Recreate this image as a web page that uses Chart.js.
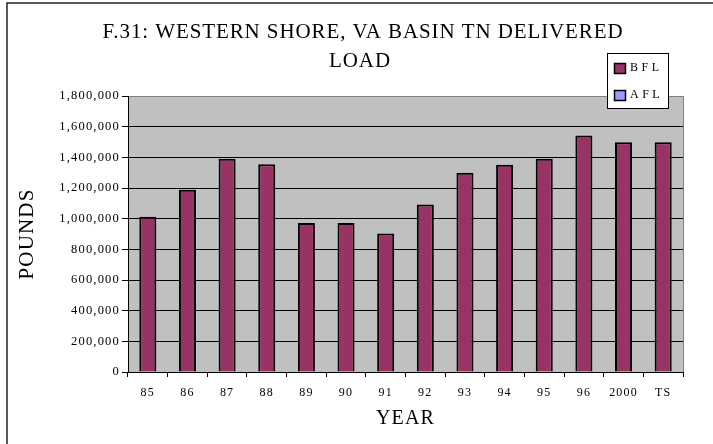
<!DOCTYPE html>
<html>
<head>
<meta charset="utf-8">
<script src="https://cdn.jsdelivr.net/npm/chart.js@4.4.1/dist/chart.umd.min.js"></script>
<style>
  body { margin: 0; background: #fff; }
  canvas { display: block; }
</style>
</head>
<body>
<canvas id="chart" width="713" height="444"></canvas>
<script>
// values
const years = ['85', '86', '87', '88', '89', '90', '91', '92', '93', '94', '95', '96', '2000', 'TS'];
const bflLoad = [1012000, 1189000, 1390000, 1355000, 971000, 971000, 904000, 1093000, 1300000, 1352000, 1390000, 1542000, 1499000, 1499000];
const aflLoad = [null, null, null, null, null, null, null, null, null, null, null, null, null, null];
const titleLines = ['F.31: WESTERN SHORE, VA BASIN TN DELIVERED', 'LOAD'];

const serif = '"Liberation Serif", "Times New Roman", serif';
Chart.defaults.font.family = serif;
Chart.defaults.color = '#000';

// grey plot, outer frame, title and the little legend box
const frame = {
  id: 'frame',
  beforeDraw(chart) {
    const { ctx, chartArea: a } = chart;
    ctx.save();
    ctx.fillStyle = '#c0c0c0';
    ctx.fillRect(a.left, a.top, a.right - a.left, a.bottom - a.top);
    ctx.strokeStyle = '#808080';
    ctx.lineWidth = 1;
    ctx.beginPath();
    ctx.moveTo(a.right + 0.5, a.top);
    ctx.lineTo(a.right + 0.5, a.bottom);
    ctx.stroke();
    ctx.strokeStyle = '#222';
    ctx.lineWidth = 1.5;
    ctx.strokeRect(7, 3, 760, 500);

    ctx.fillStyle = '#000';
    ctx.font = '21px ' + serif;
    ctx.letterSpacing = '0.9px';
    ctx.textAlign = 'center';
    ctx.textBaseline = 'alphabetic';
    ctx.fillText(titleLines[0], 363, 38);
    ctx.fillText(titleLines[1], 360, 67);
    ctx.restore();
    // axis text in the picture is spaced out a bit
    ctx.letterSpacing = '1.2px';
  },
  afterDraw(chart) {
    const { ctx } = chart;
    ctx.save();
    ctx.letterSpacing = '0px';
    ctx.fillStyle = '#fff';
    ctx.fillRect(607, 53, 62, 56);
    ctx.strokeStyle = '#000';
    ctx.lineWidth = 1;
    ctx.strokeRect(607.5, 53.5, 61, 55);
    ctx.font = '12px ' + serif;
    ctx.letterSpacing = '3.5px';
    ctx.textBaseline = 'alphabetic';
    chart.data.datasets.forEach((ds, i) => {
      const y = 63 + i * 27;
      ctx.fillStyle = ds.backgroundColor;
      ctx.fillRect(614, y, 12, 11);
      ctx.lineWidth = 1.5;
      ctx.strokeStyle = '#000';
      ctx.strokeRect(614.5, y + 0.5, 11, 10);
      ctx.fillStyle = '#000';
      ctx.fillText(ds.label, 630, y + 7.5);
    });
    ctx.restore();
    ctx.letterSpacing = '0px';
  }
};

new Chart(document.getElementById('chart'), {
  type: 'bar',
  data: {
    labels: years,
    datasets: [
      { label: 'BFL', data: bflLoad, backgroundColor: '#993366', borderColor: '#000', borderWidth: 2 },
      { label: 'AFL', data: aflLoad, backgroundColor: '#9999ff', borderColor: '#000', borderWidth: 2 }
    ]
  },
  options: {
    responsive: false,
    animation: false,
    devicePixelRatio: 1,
    skipNull: true,
    categoryPercentage: 0.86,
    barPercentage: 0.5,
    layout: { padding: { left: 0, top: 96, right: 30, bottom: 0 } },
    plugins: {
      legend: { display: false },
      title: { display: false },
      tooltip: { enabled: false }
    },
    scales: {
      x: {
        afterFit: (s) => { s.height = 72; },
        grid: { drawOnChartArea: false, drawTicks: true, tickLength: 5, tickColor: '#000', offset: true },
        border: { color: '#000', width: 1 },
        ticks: { font: { size: 12 }, padding: 9, maxRotation: 0 },
        title: { display: true, text: 'YEAR', font: { size: 20 }, padding: { top: 0, bottom: 13 } }
      },
      y: {
        min: 0,
        max: 1800000,
        afterFit: (s) => { s.width = 128; },
        grid: {
          color: (c) => (c.tick && c.tick.value === 1800000 ? '#808080' : '#000'),
          tickColor: '#000',
          tickLength: 6,
          lineWidth: 1
        },
        border: { color: '#000', width: 1 },
        ticks: {
          stepSize: 200000,
          font: { size: 12.5 },
          padding: 2,
          callback: (v) => v.toLocaleString('en-US')
        },
        title: { display: true, text: 'POUNDS', font: { size: 21 }, padding: { top: 15, bottom: 0 } }
      }
    }
  },
  plugins: [frame]
});
</script>
</body>
</html>
